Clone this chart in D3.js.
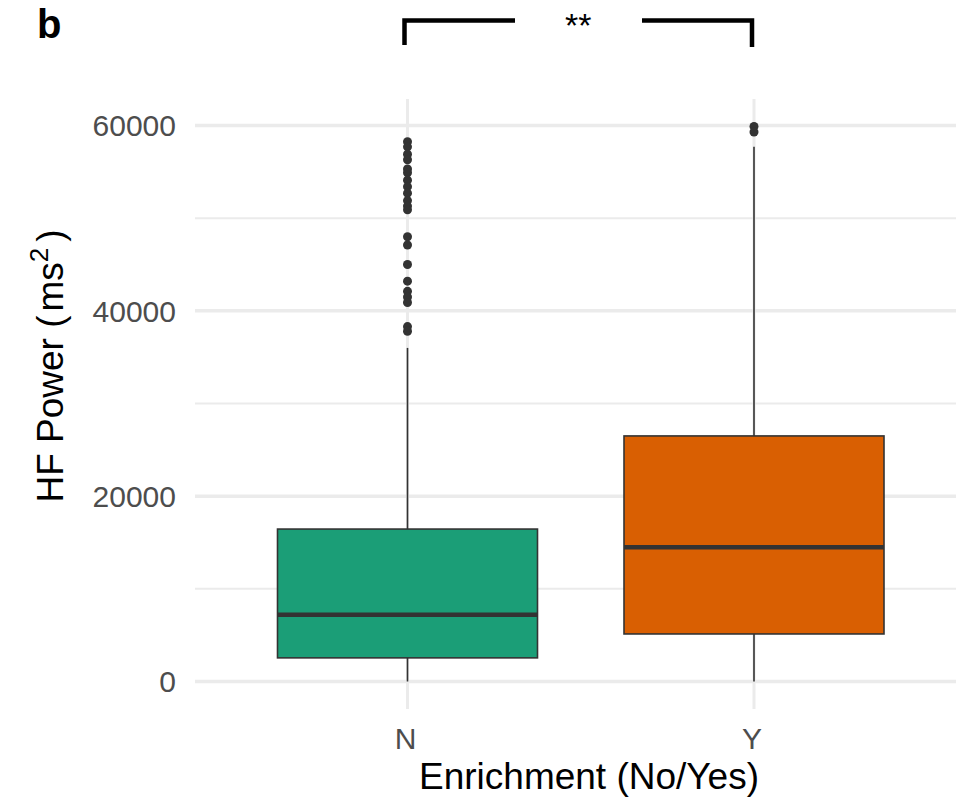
<!DOCTYPE html>
<html>
<head>
<meta charset="utf-8">
<script src="https://cdn.jsdelivr.net/npm/d3@7"></script>
<style>
  body { margin: 0; background: #fff; }
  svg { display: block; font-family: "Liberation Sans", Arial, sans-serif; }
</style>
</head>
<body>
<svg id="chart" width="956" height="806"></svg>
<script>
// groups on the x axis
const categories = ['N', 'Y'];
const fills = ['#1b9e77', '#d95f02'];

// box summaries (ms^2)
const lowerWhisker = [0, 0];
const q1 = [2550, 5130];
const median = [7200, 14500];
const q3 = [16450, 26500];
const upperWhisker = [36000, 57700];

// points beyond the whiskers
const outliersN = [58250, 57700, 56900, 56300, 55300, 54900, 54100, 53400, 52700, 51900, 51300, 50900,
                   48000, 47100, 45000, 43200, 42100, 41500, 40900, 38300, 37800];
const outliersY = [59900, 59300];
const outliers = [outliersN, outliersY];

const yTicks = [0, 20000, 40000, 60000];
const yMinor = [10000, 30000, 50000];

const svg = d3.select('#chart');

const panel = { left: 195, right: 956, top: 99, bottom: 709 };

const x = d3.scalePoint()
    .domain(categories)
    .range([407.5, 754]);

const y = d3.scaleLinear()
    .domain([0, 60000])
    .range([681.5, 125.5]);

const boxWidth = 260;

// grid
const grid = svg.append('g');
grid.selectAll('.minor')
    .data(yMinor)
    .enter()
    .append('line')
    .attr('x1', panel.left).attr('x2', panel.right)
    .attr('y1', d => y(d)).attr('y2', d => y(d))
    .attr('stroke', '#ebebeb')
    .attr('stroke-width', 2);
grid.selectAll('.major')
    .data(yTicks)
    .enter()
    .append('line')
    .attr('x1', panel.left).attr('x2', panel.right)
    .attr('y1', d => y(d)).attr('y2', d => y(d))
    .attr('stroke', '#ebebeb')
    .attr('stroke-width', 3.5);
grid.selectAll('.vmajor')
    .data(categories)
    .enter()
    .append('line')
    .attr('x1', d => x(d)).attr('x2', d => x(d))
    .attr('y1', panel.top).attr('y2', panel.bottom)
    .attr('stroke', '#ebebeb')
    .attr('stroke-width', 3);

// y tick labels
svg.append('g').selectAll('text')
    .data(yTicks)
    .enter()
    .append('text')
    .attr('x', 176)
    .attr('y', d => y(d))
    .attr('dy', '0.36em')
    .attr('text-anchor', 'end')
    .attr('font-size', 30)
    .attr('fill', '#4d4d4d')
    .text(d => d);

// x tick labels
svg.append('g').selectAll('text')
    .data(categories)
    .enter()
    .append('text')
    .attr('x', d => x(d) - 2)
    .attr('y', 749)
    .attr('text-anchor', 'middle')
    .attr('font-size', 30)
    .attr('fill', '#4d4d4d')
    .text(d => d);

// boxes
const boxes = svg.append('g').selectAll('g')
    .data(categories)
    .enter()
    .append('g');

// whiskers
boxes.append('line')
    .attr('x1', d => x(d)).attr('x2', d => x(d))
    .attr('y1', (d, i) => y(q3[i])).attr('y2', (d, i) => y(upperWhisker[i]))
    .attr('stroke', '#333333').attr('stroke-width', 1.6);
boxes.append('line')
    .attr('x1', d => x(d)).attr('x2', d => x(d))
    .attr('y1', (d, i) => y(q1[i])).attr('y2', (d, i) => y(lowerWhisker[i]))
    .attr('stroke', '#333333').attr('stroke-width', 1.6);

boxes.append('rect')
    .attr('x', d => x(d) - boxWidth / 2)
    .attr('width', boxWidth)
    .attr('y', (d, i) => y(q3[i]))
    .attr('height', (d, i) => y(q1[i]) - y(q3[i]))
    .attr('fill', (d, i) => fills[i])
    .attr('stroke', '#333333')
    .attr('stroke-width', 1.6);

boxes.append('line')
    .attr('x1', d => x(d) - boxWidth / 2).attr('x2', d => x(d) + boxWidth / 2)
    .attr('y1', (d, i) => y(median[i])).attr('y2', (d, i) => y(median[i]))
    .attr('stroke', '#333333').attr('stroke-width', 4.5);

// outlier points
boxes.each(function(d, i) {
    d3.select(this).selectAll('circle')
        .data(outliers[i])
        .enter()
        .append('circle')
        .attr('cx', x(d))
        .attr('cy', v => y(v))
        .attr('r', 4.5)
        .attr('fill', '#333333');
});

// significance bracket
const bx1 = x('N') - 3, bx2 = x('Y') - 2, by = 20.5;
const bracket = svg.append('g')
    .attr('fill', 'none')
    .attr('stroke', '#000')
    .attr('stroke-width', 4.5);
bracket.append('path').attr('d', `M${bx1},45 V${by} H515`);
bracket.append('path').attr('d', `M642,${by} H${bx2} V47`);
svg.append('text')
    .attr('x', (bx1 + bx2) / 2)
    .attr('y', 37)
    .attr('text-anchor', 'middle')
    .attr('font-size', 34)
    .attr('fill', '#000')
    .text('**');

// panel tag
svg.append('text')
    .attr('x', 37)
    .attr('y', 38)
    .attr('font-size', 40)
    .attr('font-weight', 'bold')
    .text('b');

// axis titles
svg.append('text')
    .attr('x', 589)
    .attr('y', 789)
    .attr('text-anchor', 'middle')
    .attr('font-size', 37)
    .text('Enrichment (No/Yes)');

const yTitle = svg.append('text')
    .attr('transform', 'translate(63,366) rotate(-90)')
    .attr('text-anchor', 'middle')
    .attr('font-size', 37);
yTitle.append('tspan').text('HF Power (');
yTitle.append('tspan').attr('dx', 4).text('ms');
yTitle.append('tspan').attr('dy', -15).attr('font-size', 26).text('2');
yTitle.append('tspan').attr('dy', 15).attr('dx', 6).text(')');
</script>
</body>
</html>
